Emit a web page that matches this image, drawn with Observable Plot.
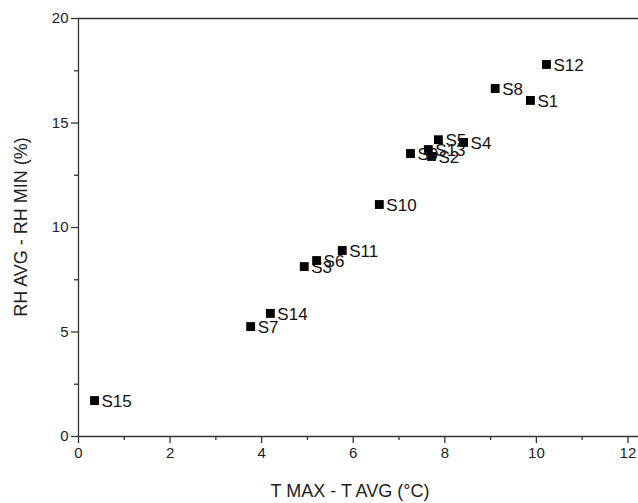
<!DOCTYPE html>
<html>
<head>
<meta charset="utf-8">
<script src="https://cdn.jsdelivr.net/npm/d3@7"></script>
<script src="https://cdn.jsdelivr.net/npm/@observablehq/plot@0.6"></script>
<style>
  html, body { margin: 0; padding: 0; background: #fff; }
  #chart svg { display: block; }
</style>
</head>
<body>
<div id="chart"></div>
<script>
const stations = ["S15","S7","S14","S3","S6","S11","S10","S9","S13","S2","S5","S4","S8","S1","S12"];
const tDiff   = [0.35, 3.76, 4.19, 4.93, 5.20, 5.76, 6.57, 7.25, 7.64, 7.71, 7.86, 8.41, 9.10, 9.87, 10.22];
const rhDiff  = [1.72, 5.26, 5.89, 8.13, 8.42, 8.90, 11.10, 13.54, 13.73, 13.40, 14.20, 14.07, 16.65, 16.08, 17.80];
const xMajor = [0, 2, 4, 6, 8, 10, 12];
const xMinor = [1, 3, 5, 7, 9, 11];
const yMajor = [0, 5, 10, 15, 20];
const yMinor = [2.5, 7.5, 12.5, 17.5];
const xLabel = "T MAX - T AVG (°C)";
const yLabel = "RH AVG - RH MIN (%)";

const data = stations.map((s, i) => ({name: s, x: tDiff[i], y: rhDiff[i]}));

const font = "'Liberation Sans', Arial, sans-serif";
const axisColor = "#333";

const chart = Plot.plot({
  width: 638,
  height: 503,
  marginLeft: 78,
  marginRight: 0,
  marginTop: 18,
  marginBottom: 67,
  style: {fontFamily: font, background: "#fff", color: "#222"},
  x: {domain: [0, 12.23]},
  y: {domain: [0, 20]},
  marks: [
    Plot.ruleY([20], {stroke: axisColor, strokeWidth: 1.3}),
    Plot.ruleY([0], {stroke: axisColor, strokeWidth: 1.3}),
    Plot.ruleX([0], {stroke: axisColor, strokeWidth: 1.3}),
    Plot.axisX({ticks: xMajor, tickSize: 7, tickPadding: 4, fontSize: 15, stroke: axisColor, strokeWidth: 1.3, fill: "#222", label: null}),
    Plot.axisX({ticks: xMinor, tickSize: 4, tickFormat: () => "", stroke: axisColor, strokeWidth: 1.3, label: null}),
    Plot.axisY({ticks: yMajor, tickSize: 7, tickPadding: 3, fontSize: 15, stroke: axisColor, strokeWidth: 1.3, fill: "#222", label: null}),
    Plot.axisY({ticks: yMinor, tickSize: 4, tickFormat: () => "", stroke: axisColor, strokeWidth: 1.3, label: null}),
    Plot.dot(data, {x: "x", y: "y", symbol: "square", r: 5, fill: "#000", stroke: "none"}),
    Plot.text(data, {x: "x", y: "y", text: "name", dx: 7, dy: 1, textAnchor: "start", fontSize: 17, fill: "#111"})
  ]
});

const svg = d3.select(chart);
svg.append("text")
  .attr("x", 350).attr("y", 497)
  .attr("text-anchor", "middle")
  .attr("font-size", 18).attr("font-family", font).attr("fill", "#222")
  .text(xLabel);
svg.append("text")
  .attr("transform", "translate(27,227) rotate(-90)")
  .attr("text-anchor", "middle")
  .attr("font-size", 18).attr("font-family", font).attr("fill", "#222")
  .text(yLabel);

document.getElementById("chart").appendChild(chart);
</script>
</body>
</html>
